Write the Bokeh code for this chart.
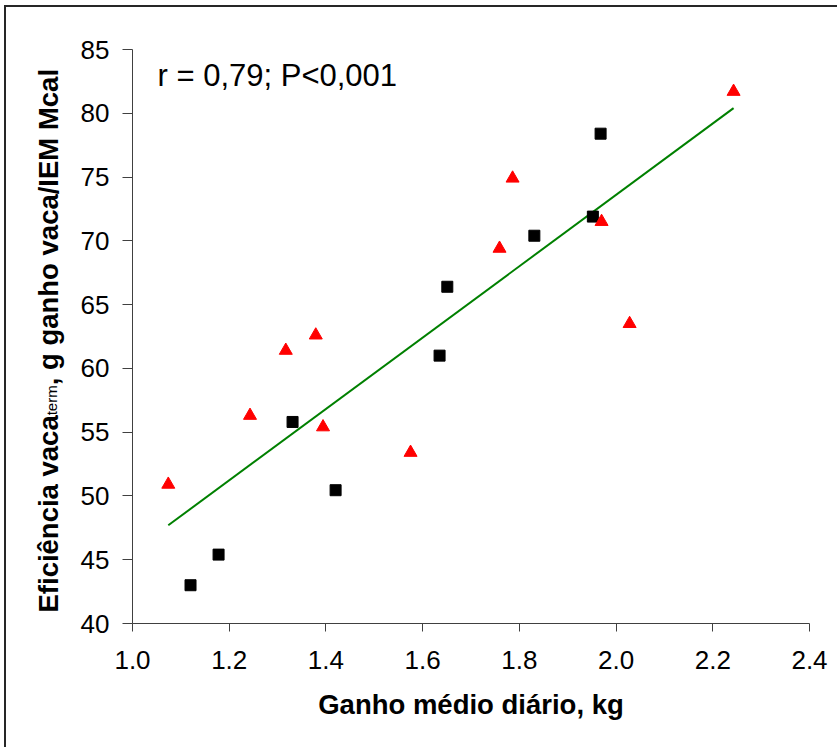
import math
from bokeh.plotting import figure
from bokeh.layouts import row
from bokeh.models import Range1d, Label, FixedTicker
from bokeh.core.properties import value
from bokeh.embed import file_html
from bokeh.resources import INLINE

# ---- data ----
square_x = [1.12, 1.178, 1.331, 1.42, 1.635, 1.651, 1.831, 1.952, 1.968]
square_y = [43.0, 45.4, 55.8, 50.45, 61.0, 66.4, 70.4, 71.9, 78.4]
triangle_x = [1.074, 1.243, 1.317, 1.379, 1.394, 1.575, 1.759, 1.786, 1.970, 2.028, 2.243]
triangle_y = [50.9, 56.3, 61.4, 62.6, 55.4, 53.4, 69.4, 74.9, 71.5, 63.5, 81.7]
fit_x = [1.074, 2.243]
fit_y = [47.7, 80.4]
x_ticks = [1.0, 1.2, 1.4, 1.6, 1.8, 2.0, 2.2, 2.4]
x_tick_labels = ["1.0", "1.2", "1.4", "1.6", "1.8", "2.0", "2.2", "2.4"]
y_ticks = [40, 45, 50, 55, 60, 65, 70, 75, 80, 85]
y_tick_labels = ["40", "45", "50", "55", "60", "65", "70", "75", "80", "85"]
stat_text = "r = 0,79; P<0,001"
x_title = "Ganho médio diário, kg"
y_title_a = "Eficiência vaca"
y_title_sub = "term"
y_title_b = ", g ganho vaca/IEM Mcal"

FONT = "Liberation Sans"

# ---- layout geometry (page pixels) ----
CANVAS_X0, CANVAS_Y0 = 6, 7          # content origin on page (after margin + border)
FRAME_L, FRAME_R, FRAME_T, FRAME_B = 132, 809, 49, 623
TOTAL_W, H = 837 - CANVAS_X0, 747 - CANVAS_Y0
LW = 70                               # width of the strip holding the y title
MW = TOTAL_W - LW
MAIN_X0 = CANVAS_X0 + LW
BORDER_TOP = FRAME_T - CANVAS_Y0
BORDER_BOTTOM = H - (FRAME_B - CANVAS_Y0)

X0, X1, Y0, Y1 = 1.0, 2.4, 40, 85


def px_x(px):
    return X0 + (px - FRAME_L) * (X1 - X0) / (FRAME_R - FRAME_L)


def px_y(py):
    return Y0 + (FRAME_B - py) * (Y1 - Y0) / (FRAME_B - FRAME_T)


p = figure(width=MW, height=H, output_backend="svg", toolbar_location=None,
           x_range=Range1d(X0, X1), y_range=Range1d(Y0, Y1),
           min_border_left=FRAME_L - MAIN_X0,
           min_border_right=MW - (FRAME_R - MAIN_X0),
           min_border_top=BORDER_TOP,
           min_border_bottom=BORDER_BOTTOM)
p.outline_line_color = None
p.background_fill_color = "white"
p.border_fill_color = "white"
p.xgrid.visible = False
p.ygrid.visible = False

for ax in (p.xaxis[0], p.yaxis[0]):
    ax.axis_line_color = "#404040"
    ax.axis_line_width = 1
    ax.major_tick_line_color = "#404040"
    ax.minor_tick_line_color = None
    ax.major_tick_in = 0
    ax.major_label_text_font = FONT
    ax.major_label_text_font_size = "26px"
    ax.major_label_text_color = "black"

p.xaxis.ticker = FixedTicker(ticks=x_ticks)
p.xaxis.major_label_overrides = {t: l for t, l in zip(x_ticks, x_tick_labels)}
p.xaxis.major_tick_out = 8
p.xaxis.major_label_standoff = 19
p.xaxis.axis_label = x_title
p.xaxis.axis_label_text_font = FONT
p.xaxis.axis_label_text_font_style = "bold"
p.xaxis.axis_label_text_font_size = "27.5px"
p.xaxis.axis_label_text_color = "black"
p.xaxis.axis_label_standoff = 17

p.yaxis.ticker = FixedTicker(ticks=y_ticks)
p.yaxis.major_label_overrides = {t: l for t, l in zip(y_ticks, y_tick_labels)}
p.yaxis.major_tick_out = 10
p.yaxis.major_label_standoff = 13

# regression line
p.line(fit_x, fit_y, line_color="#008000", line_width=2)
# markers
p.scatter(square_x, square_y, marker="square", size=11,
          fill_color="black", line_color="black")
p.scatter(triangle_x, triangle_y, marker="triangle", size=13,
          fill_color="#ff0000", line_color="#ff0000")

# statistic annotation
p.add_layout(Label(x=px_x(157), y=px_y(75), text=stat_text,
                   text_font=FONT, text_font_size="31px", text_color="black",
                   text_align="left", text_baseline="alphabetic"))

# ---- strip on the left carrying the y title (with subscript) ----
# its frame spans the same vertical extent as the main frame
t = figure(width=LW, height=H, output_backend="svg", toolbar_location=None,
           x_range=Range1d(0, LW), y_range=Range1d(Y0, Y1),
           min_border_left=0, min_border_right=0,
           min_border_top=BORDER_TOP, min_border_bottom=BORDER_BOTTOM,
           outline_line_color=None)
t.axis.visible = False
t.grid.visible = False
t.border_fill_color = "white"

TITLE_SIZE = 27.5
SUB_SIZE = 15
BASE_PX = 47.5
SUB_BASE_PX = 50.5
start_py = 612
a_len = 7.171 * TITLE_SIZE
sub_len = 2.0 * SUB_SIZE


def sx(px):
    return px - CANVAS_X0


t.text(x=[sx(BASE_PX)], y=[px_y(start_py)], text=[y_title_a], angle=math.pi / 2,
       text_font=value(FONT), text_font_size=f"{TITLE_SIZE}px", text_font_style="bold",
       text_color="black", text_align="left", text_baseline="alphabetic")
t.text(x=[sx(SUB_BASE_PX)], y=[px_y(start_py - a_len)], text=[y_title_sub], angle=math.pi / 2,
       text_font=value(FONT), text_font_size=f"{SUB_SIZE}px",
       text_color="black", text_align="left", text_baseline="alphabetic")
t.text(x=[sx(BASE_PX)], y=[px_y(start_py - a_len - sub_len)], text=[y_title_b], angle=math.pi / 2,
       text_font=value(FONT), text_font_size=f"{TITLE_SIZE}px", text_font_style="bold",
       text_color="black", text_align="left", text_baseline="alphabetic")

layout = row(t, p, spacing=0,
             styles={"border-left": "2px solid #262626", "border-top": "2px solid #262626",
                     "margin-left": "4px", "margin-top": "5px"})

open("out.html", "w").write(file_html(layout, INLINE))
